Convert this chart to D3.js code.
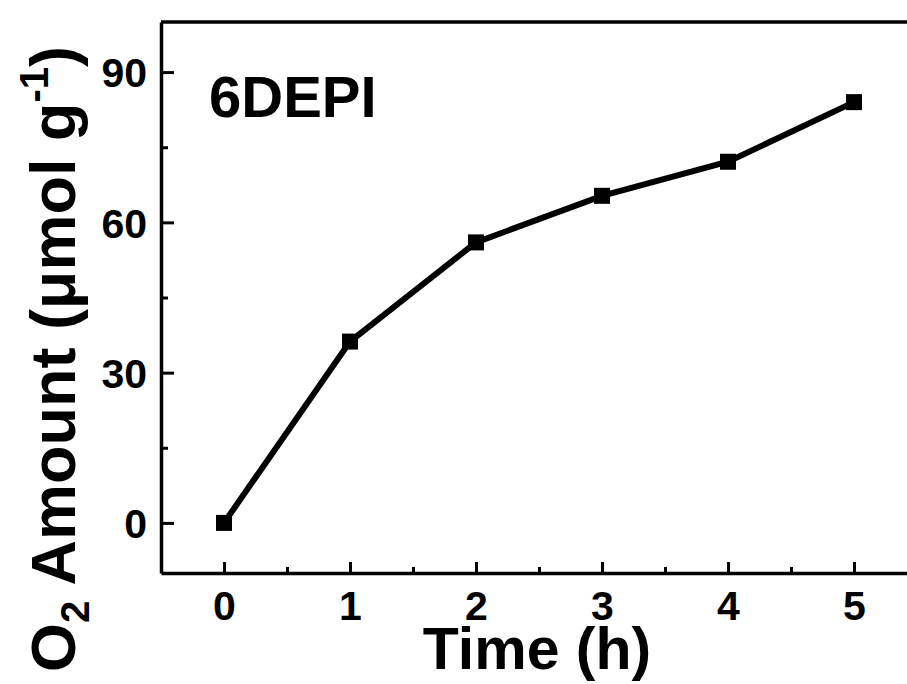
<!DOCTYPE html>
<html>
<head>
<meta charset="utf-8">
<script src="https://cdn.jsdelivr.net/npm/d3@7"></script>
<style>
  html, body { margin: 0; padding: 0; background: #fff; }
  svg { display: block; }
  text { font-family: Arial, "Liberation Sans", sans-serif; font-weight: bold; fill: #000; }
</style>
</head>
<body>
<svg id="chart" width="907" height="684"></svg>
<script>
// O2 evolution over time for the 6DEPI sample
const times = [0, 1, 2, 3, 4, 5];
const o2Amount = [0, 36.2, 56.0, 65.3, 72.1, 84.0];
const xTicks = [0, 1, 2, 3, 4, 5];
const xMinorTicks = [0.5, 1.5, 2.5, 3.5, 4.5];
const yTicks = [0, 30, 60, 90];
const yMinorTicks = [15, 45, 75];
const sampleName = "6DEPI";

const svg = d3.select("#chart");
const plotLeft = 161, plotRight = 917, plotTop = 22, plotBottom = 573;

const x = d3.scaleLinear().domain([-0.5, 5.5]).range([plotLeft, plotRight]);
const y = d3.scaleLinear().domain([-10, 100]).range([plotBottom, plotTop]);

// frame (top and right spines)
svg.append("line").attr("x1", plotLeft).attr("x2", plotRight).attr("y1", plotTop).attr("y2", plotTop)
  .attr("stroke", "#000").attr("stroke-width", 3.5);
svg.append("line").attr("x1", plotRight).attr("x2", plotRight).attr("y1", plotTop).attr("y2", plotBottom)
  .attr("stroke", "#000").attr("stroke-width", 3.5);

function styleAxis(g) {
  g.select(".domain").attr("stroke", "#000").attr("stroke-width", 3.5);
  g.selectAll(".tick line").attr("stroke", "#000").attr("stroke-width", 3);
}

// bottom axis: major ticks with labels, minor ticks without
const xAxis = svg.append("g").attr("transform", `translate(0,${plotBottom})`)
  .call(d3.axisBottom(x).tickValues(xTicks).tickSize(-11).tickSizeOuter(0)
    .tickPadding(18).tickFormat(d3.format("d")));
styleAxis(xAxis);
xAxis.selectAll(".tick text").attr("font-size", 41).attr("font-family", null);

const xMinor = svg.append("g").attr("transform", `translate(0,${plotBottom})`)
  .call(d3.axisBottom(x).tickValues(xMinorTicks).tickSize(-6).tickSizeOuter(0).tickFormat(""));
styleAxis(xMinor);
xMinor.select(".domain").remove();

// left axis
const yAxis = svg.append("g").attr("transform", `translate(${plotLeft},0)`)
  .call(d3.axisLeft(y).tickValues(yTicks).tickSize(-13).tickSizeOuter(0)
    .tickPadding(14).tickFormat(d3.format("d")));
styleAxis(yAxis);
yAxis.selectAll(".tick text").attr("font-size", 41).attr("font-family", null)
  .attr("x", -14).attr("dy", "0.36em");

const yMinor = svg.append("g").attr("transform", `translate(${plotLeft},0)`)
  .call(d3.axisLeft(y).tickValues(yMinorTicks).tickSize(-7).tickSizeOuter(0).tickFormat(""));
styleAxis(yMinor);
yMinor.select(".domain").remove();

// data line and square markers
const pts = times.map((t, i) => ({ t, v: o2Amount[i] }));
svg.append("path").datum(pts)
  .attr("fill", "none").attr("stroke", "#000").attr("stroke-width", 6)
  .attr("stroke-linejoin", "miter")
  .attr("d", d3.line().x(d => x(d.t)).y(d => y(d.v)));

const ms = 16;
svg.selectAll("rect.marker").data(pts).join("rect")
  .attr("class", "marker")
  .attr("x", d => x(d.t) - ms / 2).attr("y", d => y(d.v) - ms / 2)
  .attr("width", ms).attr("height", ms).attr("fill", "#000");

// sample label
svg.append("text").attr("x", 209).attr("y", 117).attr("font-size", 58).text(sampleName);

// axis titles
svg.append("text").attr("x", (plotLeft + plotRight) / 2 - 2).attr("y", 669)
  .attr("text-anchor", "middle").attr("font-size", 59).text("Time (h)");

const yTitle = svg.append("text")
  .attr("transform", "translate(75,672) rotate(-90)")
  .attr("text-anchor", "start").attr("font-size", 63);
yTitle.append("tspan").text("O");
yTitle.append("tspan").attr("font-size", 40).attr("dy", 14).text("2");
yTitle.append("tspan").attr("dy", -14).text(" Amount (\u03BCmol g");
yTitle.append("tspan").attr("font-size", 40).attr("dy", -27).text("-1");
yTitle.append("tspan").attr("dy", 27).text(")");
</script>
</body>
</html>
